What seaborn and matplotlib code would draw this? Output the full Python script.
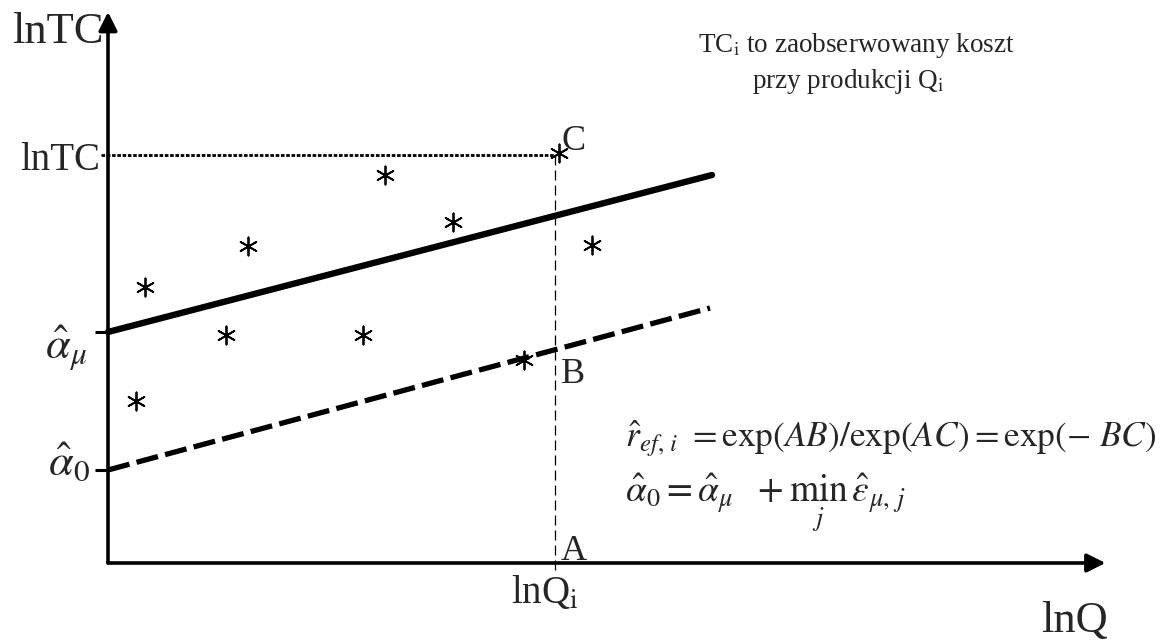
import matplotlib
matplotlib.use("Agg")
import matplotlib.pyplot as plt
import seaborn as sns
import pandas as pd

# Regression lines in (lnQ, lnTC) units
ols_x = [0.0, 12.08]
ols_y = [4.62, 7.76]          # solid OLS line, intercept alpha_mu
frontier_x = [0.0, 12.04]
frontier_y = [1.86, 5.10]     # shifted (frontier) line, intercept alpha_0

# Observed (lnQ_j, lnTC_j) points
obs_x = [0.74, 2.80, 5.54, 6.90, 9.02, 9.68, 2.36, 5.10, 8.32, 0.56]
obs_y = [5.52, 6.34, 7.76, 6.82, 8.20, 6.36, 4.56, 4.56, 4.06, 3.24]

# Highlighted observation i
lnQ_i = 8.94
lnTC_i = 8.16

sns.set_theme(style="white")
plt.rcParams["font.family"] = ["Liberation Serif", "DejaVu Serif"]
plt.rcParams["mathtext.fontset"] = "stix"

fig = plt.figure(figsize=(11.62, 6.4), dpi=100)
ax = fig.add_axes([0, 0, 1, 1])
ax.set_xlim(-2.16, 21.08)
ax.set_ylim(-1.54, 11.26)
ax.axis("off")

# Coordinate axes with arrow heads
arrow = dict(arrowstyle="-|>", lw=2.6, color="black", mutation_scale=28,
             shrinkA=0, shrinkB=0)
ax.annotate("", xy=(19.95, 0), xytext=(0, 0), arrowprops=arrow)
ax.annotate("", xy=(0, 11.02), xytext=(0, 0), arrowprops=arrow)

# Guide lines for observation i
ax.plot([-0.14, lnQ_i], [lnTC_i, lnTC_i], color="black", lw=2.0,
        linestyle=(0, (1.3, 0.6)))
ax.plot([lnQ_i, lnQ_i], [lnTC_i, -0.2], color="black", lw=0.9,
        linestyle=(0, (8, 4)))

# Small ticks for the two intercepts
for yv in (ols_y[0], frontier_y[0]):
    ax.plot([-0.26, 0], [yv, yv], color="black", lw=2.2, solid_capstyle="butt")

df_ols = pd.DataFrame({"lnQ": ols_x, "lnTC": ols_y})
df_fr = pd.DataFrame({"lnQ": frontier_x, "lnTC": frontier_y})
sns.lineplot(data=df_ols, x="lnQ", y="lnTC", ax=ax, color="black", lw=4.6,
             solid_capstyle="round", sort=False)
sns.lineplot(data=df_fr, x="lnQ", y="lnTC", ax=ax, color="black", lw=3.8,
             linestyle=(0, (4.2, 1.4)), sort=False)

df_obs = pd.DataFrame({"lnQ": obs_x, "lnTC": obs_y})
sns.scatterplot(data=df_obs, x="lnQ", y="lnTC", ax=ax, marker=(6, 2, 0),
                s=170, color="black", linewidth=1.3, edgecolor="black")

# Axis titles and labels
ax.text(-1.92, 10.4, "lnTC", fontsize=32, ha="left", va="baseline")
ax.text(-0.16, 7.86, "lnTC", fontsize=28, ha="right", va="baseline")
ax.text(18.66, -1.38, "lnQ", fontsize=32, ha="left", va="baseline")
ax.text(lnQ_i - 0.2, -0.8, r"lnQ$_\mathrm{i}$", fontsize=28, ha="center",
        va="baseline")
ax.text(-0.42, 4.1, r"$\hat{\alpha}_{\mu}$", fontsize=32, ha="right",
        va="baseline")
ax.text(-0.36, 1.76, r"$\hat{\alpha}_{0}$", fontsize=32, ha="right",
        va="baseline")

ax.text(9.06, 8.26, "C", fontsize=26, ha="left", va="baseline")
ax.text(9.06, 3.6, "B", fontsize=26, ha="left", va="baseline")
ax.text(9.06, 0.06, "A", fontsize=26, ha="left", va="baseline")

# Explanatory notes
ax.text(11.8, 10.22, r"TC$_\mathrm{i}$ to zaobserwowany koszt", fontsize=19.5,
        ha="left", va="baseline")
ax.text(12.88, 9.5, r"przy produkcji Q$_\mathrm{i}$", fontsize=19.5,
        ha="left", va="baseline")

ax.text(10.34, 2.32,
        r"$\hat{r}_{ef,\,i}\ = \mathrm{exp}\left(AB\right)/\mathrm{exp}\left(AC\right)"
        r"= \mathrm{exp}\left(-\ BC\right)$",
        fontsize=25.5, ha="left", va="baseline")
ax.text(10.34, 1.22,
        r"$\hat{\alpha}_{0} = \hat{\alpha}_{\mu}\ \ + \min_{j}\,\hat{\varepsilon}_{\mu,\,j}$",
        fontsize=27, ha="left", va="baseline")

fig.savefig("out.png", dpi=100)
